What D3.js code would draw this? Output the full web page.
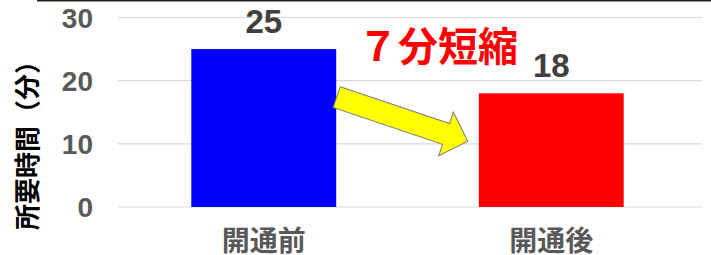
<!DOCTYPE html>
<html>
<head>
<meta charset="utf-8">
<script src="https://cdn.jsdelivr.net/npm/d3@7"></script>
<style>
  body { margin: 0; background: #fff; }
  svg { display: block; }
  .num { font-family: "Liberation Sans", Arial, sans-serif; font-weight: bold; }
  .jp { font-family: "Noto Sans CJK JP", sans-serif; font-weight: bold; }
</style>
</head>
<body>
<svg width="711" height="255"></svg>
<script>
// Chart data.
var categories = ["開通前", "開通後"];
var minutes = [25, 18];
var barColors = ["#0000ff", "#ff0000"];
var yTicks = [0, 10, 20, 30];

// Arrow annotation, given in data terms (category edge + value).
var arrowFrom = { category: "開通前", value: 17.4 };
var arrowTo = { category: "開通後", value: 10.4 };

var svg = d3.select("svg");

var x = d3.scaleBand()
    .domain(categories)
    .range([120, 695])
    .paddingInner(0.496)
    .paddingOuter(0.248);

var y = d3.scaleLinear()
    .domain([0, 30])
    .range([207, 17.5]);

// Black rule across the top.
svg.append("line")
    .attr("x1", 37).attr("x2", 711)
    .attr("y1", 0.8).attr("y2", 0.8)
    .attr("stroke", "#222")
    .attr("stroke-width", 1.6);

// Gridlines.
svg.append("g").selectAll("line")
    .data(yTicks)
    .join("line")
    .attr("x1", 118).attr("x2", 702)
    .attr("y1", function(d) { return y(d); })
    .attr("y2", function(d) { return y(d); })
    .attr("stroke", "#d9d9d9")
    .attr("stroke-width", 1.2);

// Y tick labels.
svg.append("g").selectAll("text")
    .data(yTicks)
    .join("text")
    .attr("class", "num")
    .attr("x", 93)
    .attr("y", function(d) { return y(d); })
    .attr("dy", "0.36em")
    .attr("text-anchor", "end")
    .attr("font-size", 28)
    .attr("fill", "#595959")
    .text(function(d) { return d; });

// Bars.
svg.append("g").selectAll("rect")
    .data(minutes)
    .join("rect")
    .attr("x", function(d, i) { return x(categories[i]); })
    .attr("y", function(d) { return y(d); })
    .attr("width", x.bandwidth())
    .attr("height", function(d) { return y(0) - y(d); })
    .attr("fill", function(d, i) { return barColors[i]; });

// Value labels.
svg.append("g").selectAll("text")
    .data(minutes)
    .join("text")
    .attr("class", "num")
    .attr("x", function(d, i) { return x(categories[i]) + x.bandwidth() / 2; })
    .attr("y", function(d) { return y(d) - 16.5; })
    .attr("text-anchor", "middle")
    .attr("font-size", 33)
    .attr("fill", "#404040")
    .text(function(d) { return d; });

// Category labels.
svg.append("g").selectAll("text")
    .data(categories)
    .join("text")
    .attr("class", "jp")
    .attr("x", function(d) { return x(d) + x.bandwidth() / 2; })
    .attr("y", 251)
    .attr("text-anchor", "middle")
    .attr("font-size", 28)
    .attr("fill", "#595959")
    .text(function(d) { return d; });

// Y axis title.
svg.append("text")
    .attr("class", "jp")
    .attr("transform", "translate(28,139) rotate(-90)")
    .attr("dy", "0.36em")
    .attr("text-anchor", "middle")
    .attr("font-size", 26)
    .attr("fill", "#000")
    .text("所要時間（分）");

// Yellow arrow between bars.
var x0 = x(arrowFrom.category) + x.bandwidth() + 0.5;
var y0 = y(arrowFrom.value);
var x1 = x(arrowTo.category) - 11;
var y1 = y(arrowTo.value);
var len = Math.hypot(x1 - x0, y1 - y0);
var angle = Math.atan2(y1 - y0, x1 - x0) * 180 / Math.PI;
var bodyHalf = 11, headHalf = 23, headLen = 23;
var arrowPts = [
    [0, -bodyHalf], [len - headLen, -bodyHalf], [len - headLen, -headHalf],
    [len, 0], [len - headLen, headHalf], [len - headLen, bodyHalf], [0, bodyHalf]
];
svg.append("polygon")
    .attr("points", arrowPts.map(function(p) { return p.join(","); }).join(" "))
    .attr("transform", "translate(" + x0 + "," + y0 + ") rotate(" + angle + ")")
    .attr("fill", "#ffff00")
    .attr("stroke", "#7f7f7f")
    .attr("stroke-width", 1);

// Annotation text.
svg.append("text")
    .attr("class", "jp")
    .attr("x", 438)
    .attr("y", 61)
    .attr("text-anchor", "middle")
    .attr("font-size", 40)
    .attr("fill", "#ff0000")
    .text("７分短縮");
</script>
</body>
</html>
